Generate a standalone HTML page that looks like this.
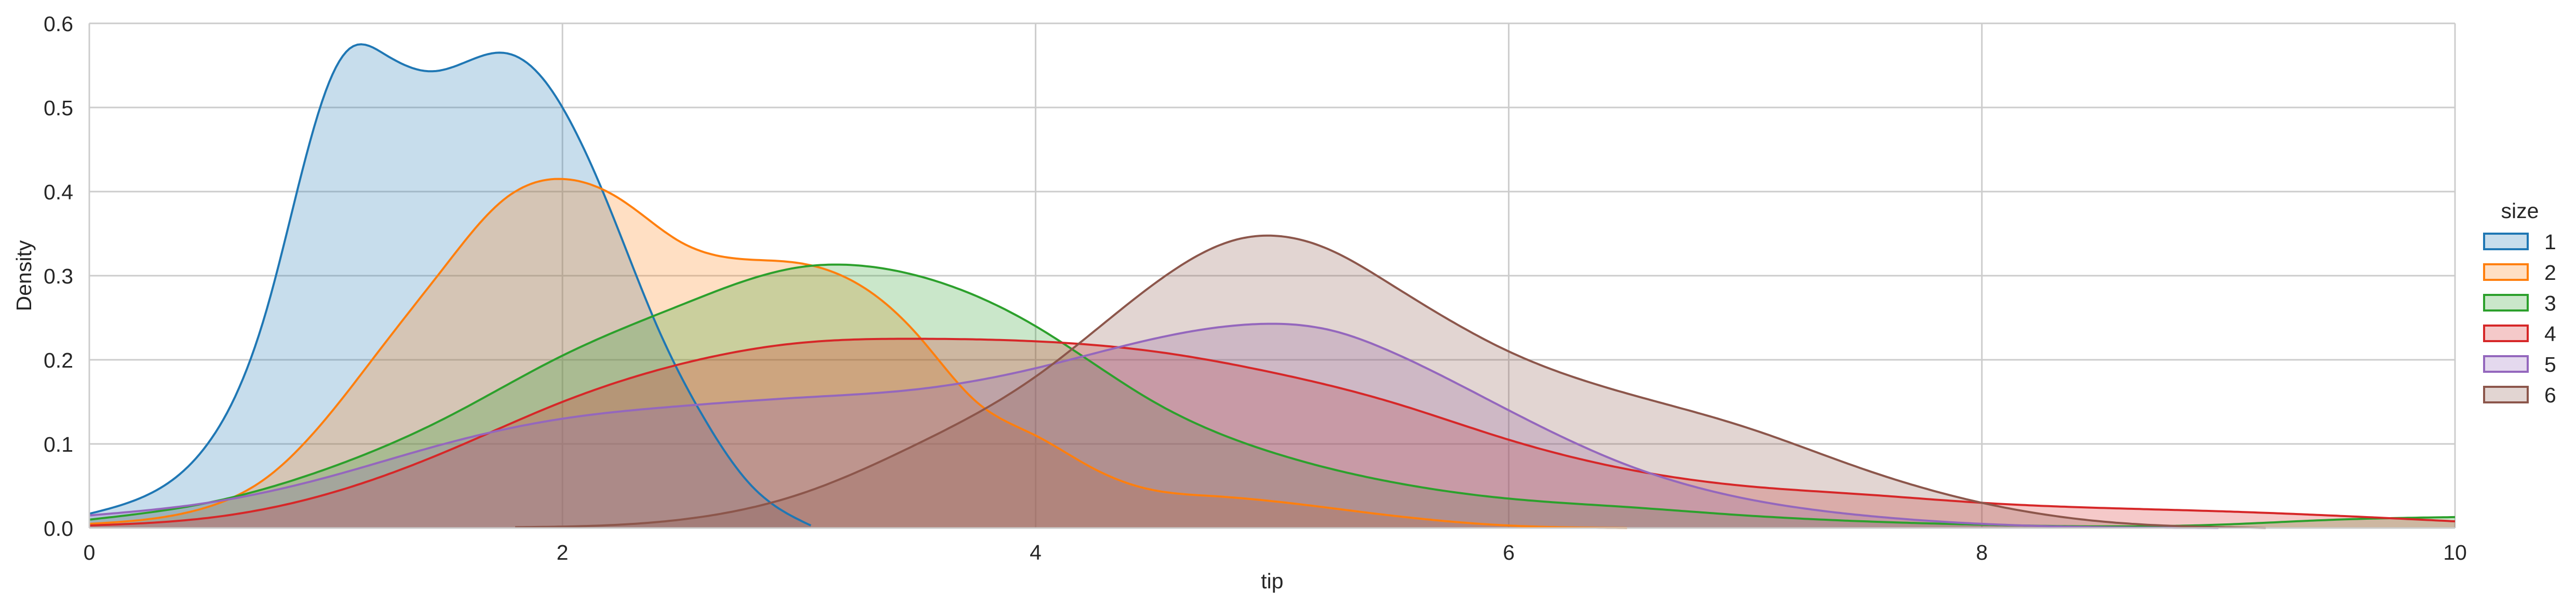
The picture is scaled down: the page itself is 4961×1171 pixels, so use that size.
<!DOCTYPE html>
<html><head><meta charset="utf-8"><style>
html,body{margin:0;padding:0;background:#fff;}
svg{display:block;font-family:"Liberation Sans",Arial,sans-serif;}
</style></head><body>
<svg id="chart" width="4961" height="1171" viewBox="0 0 4961 1171">
<g id="grid"></g>
<g id="series"></g>
<g id="axes"></g>
<g id="legend"></g>
</svg>
<script>
const categories = ["1","2","3","4","5","6"];
const colors = ["#1f77b4","#ff7f0e","#2ca02c","#d62728","#9467bd","#8c564b"];
const xTicks = [0,2,4,6,8,10];
const yTicks = [0.0,0.1,0.2,0.3,0.4,0.5,0.6];
const s1x = [0,0.25,0.5,0.75,1.0,1.1,1.25,1.45,1.6,1.75,1.9,2.0,2.2,2.4,2.6,2.8,3.05];
const s1y = [0.017,0.04,0.10,0.26,0.52,0.57,0.563,0.543,0.555,0.565,0.54,0.50,0.38,0.24,0.13,0.05,0.003];
const s2x = [0,0.5,0.75,1.0,1.25,1.5,1.75,2.0,2.25,2.5,2.75,3.0,3.25,3.5,3.75,4.0,4.25,4.5,4.75,5.0,5.5,6.0,6.5];
const s2y = [0.005,0.025,0.06,0.13,0.22,0.31,0.39,0.415,0.39,0.34,0.32,0.315,0.29,0.23,0.15,0.11,0.07,0.045,0.038,0.032,0.015,0.003,0];
const s3x = [0,0.5,1,1.5,2,2.5,3,3.2,3.5,4,4.5,5,5.5,6,6.5,7,7.5,8,8.5,9,9.5,10];
const s3y = [0.01,0.03,0.07,0.13,0.205,0.265,0.31,0.313,0.3,0.24,0.15,0.09,0.055,0.035,0.025,0.015,0.008,0.004,0.002,0.004,0.01,0.013];
const s4x = [0,0.5,1,1.5,2,2.5,3,3.5,4,4.5,5,5.5,6,6.5,7,7.5,8,9,10];
const s4y = [0.003,0.012,0.04,0.09,0.15,0.195,0.22,0.225,0.222,0.21,0.185,0.15,0.105,0.07,0.05,0.04,0.03,0.02,0.008];
const s5x = [0,0.5,1,1.5,2,2.5,3,3.5,4,4.5,4.9,5.25,5.5,6,6.5,7,7.5,8,8.5,9];
const s5y = [0.015,0.03,0.06,0.1,0.13,0.145,0.155,0.165,0.19,0.225,0.242,0.235,0.21,0.14,0.075,0.035,0.015,0.005,0.001,0];
const s6x = [1.8,2.5,3,3.5,4,4.5,4.85,5.25,5.5,6,6.5,7,7.5,8,8.5,9,9.2];
const s6y = [0.001,0.01,0.04,0.1,0.18,0.29,0.343,0.33,0.29,0.21,0.16,0.12,0.07,0.03,0.008,0.001,0];
const seriesX = [s1x,s2x,s3x,s4x,s5x,s6x];
const seriesY = [s1y,s2y,s3y,s4y,s5y,s6y];

const L=172,R=4728,T=45,B=1017;
const sx=v=>L+(v-0)/(10-0)*(R-L);
const sy=v=>B-(v/0.6)*(B-T);
const NS="http://www.w3.org/2000/svg";
function mk(tag,attrs,parent){const e=document.createElementNS(NS,tag);for(const k in attrs)e.setAttribute(k,attrs[k]);parent.appendChild(e);return e;}
const grid=document.getElementById('grid'),ser=document.getElementById('series'),axes=document.getElementById('axes'),leg=document.getElementById('legend');

xTicks.forEach(t=>{
  const l=mk('line',{x1:sx(t),x2:sx(t),y1:T,y2:B,stroke:'#cccccc','stroke-width':3},grid);
  
  
  const tx=mk('text',{x:sx(t),y:1078,'font-size':41,'text-anchor':'middle',fill:'#262626'},axes);
  tx.textContent=t;
  
  
});
yTicks.forEach(t=>{
  const l=mk('line',{x1:L,x2:R,y1:sy(t),y2:sy(t),stroke:'#cccccc','stroke-width':3},grid);
  
  
  const tx=mk('text',{x:141,y:sy(t)+15,'font-size':41,'text-anchor':'end',fill:'#262626'},axes);
  tx.textContent=t.toFixed(1);
  
  
});

// natural cubic spline in data space, sampled densely
function splinePoints(xs,ys){
  const n=xs.length,h=[],a=new Array(n).fill(0),b=new Array(n).fill(0),c=new Array(n).fill(0),r=new Array(n).fill(0),M=new Array(n).fill(0);
  for(let i=0;i<n-1;i++)h[i]=xs[i+1]-xs[i];
  b[0]=1;b[n-1]=1;
  for(let i=1;i<n-1;i++){a[i]=h[i-1];b[i]=2*(h[i-1]+h[i]);c[i]=h[i];r[i]=6*((ys[i+1]-ys[i])/h[i]-(ys[i]-ys[i-1])/h[i-1]);}
  for(let i=1;i<n;i++){const w=a[i]/b[i-1];b[i]-=w*c[i-1];r[i]-=w*r[i-1];}
  M[n-1]=r[n-1]/b[n-1];
  for(let i=n-2;i>=0;i--)M[i]=(r[i]-c[i]*M[i+1])/b[i];
  const pts=[];
  for(let i=0;i<n-1;i++){
    const steps=Math.max(4,Math.ceil(h[i]*60));
    for(let k=0;k<steps;k++){
      const t=k/steps,A=1-t,Bt=t;
      const y=A*ys[i]+Bt*ys[i+1]+((A*A*A-A)*M[i]+(Bt*Bt*Bt-Bt)*M[i+1])*h[i]*h[i]/6;
      pts.push([sx(xs[i]+t*h[i]),sy(Math.max(0,y))]);
    }
  }
  pts.push([sx(xs[n-1]),sy(ys[n-1])]);
  return pts;
}
const paths=categories.map((c,i)=>splinePoints(seriesX[i],seriesY[i]));
categories.forEach((c,i)=>{
  const p=paths[i];
  const d='M'+p.map(q=>q[0].toFixed(1)+','+q[1].toFixed(1)).join(' L')+' L'+p[p.length-1][0]+','+B+' L'+p[0][0]+','+B+' Z';
  const f=mk('path',{d:d,fill:colors[i],'fill-opacity':0.25,stroke:'none'},ser);
  
  
});
categories.forEach((c,i)=>{
  const p=paths[i];
  const d='M'+p.map(q=>q[0].toFixed(1)+','+q[1].toFixed(1)).join(' L');
  const ln=mk('path',{d:d,fill:'none',stroke:colors[i],'stroke-width':4,'stroke-linejoin':'round'},ser);
  
  
});

const sp1=mk('line',{x1:L,x2:L,y1:T,y2:B,stroke:'#cccccc','stroke-width':3},axes);


const sp2=mk('line',{x1:L,x2:R,y1:B,y2:B,stroke:'#cccccc','stroke-width':3},axes);



const xt=mk('text',{x:(L+R)/2,y:1133,'font-size':41,'text-anchor':'middle',fill:'#262626'},axes);
xt.textContent='tip';


const yt=mk('text',{x:0,y:0,'font-size':41,'text-anchor':'middle',fill:'#262626',transform:'translate(60,531) rotate(-90)'},axes);
yt.textContent='Density';



const lt=mk('text',{x:4853,y:420,'font-size':41,'text-anchor':'middle',fill:'#262626'},leg);
lt.textContent='size';


categories.forEach((c,i)=>{
  const y=450+i*59;
  const r=mk('rect',{x:4784,y:y,width:84,height:30,fill:colors[i],'fill-opacity':0.25,stroke:colors[i],'stroke-width':4},leg);
  
  
  const t=mk('text',{x:4900,y:y+30,'font-size':41,fill:'#262626'},leg);
  t.textContent=c;
  
  
});
</script>
</body></html>
